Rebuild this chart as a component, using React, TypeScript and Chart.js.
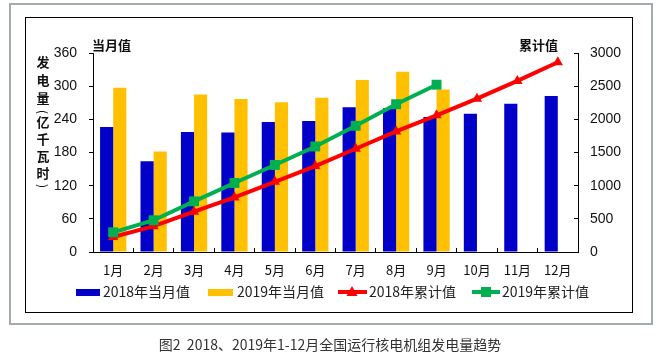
import React, { useEffect, useRef } from "react";
import { Chart, registerables } from "chart.js";

Chart.register(...registerables);

const months = ["1月", "2月", "3月", "4月", "5月", "6月", "7月", "8月", "9月", "10月", "11月", "12月"];
const monthly2018 = [226, 164, 217, 216, 235, 237, 262, 260, 244, 250, 268, 282];
const monthly2019 = [297, 182, 285, 277, 271, 279, 311, 326, 294, null, null, null];
const cumulative2018 = [226, 390, 607, 823, 1058, 1295, 1557, 1817, 2061, 2311, 2579, 2861];
const cumulative2019 = [297, 479, 764, 1041, 1312, 1591, 1902, 2228, 2522, null, null, null];
const leftTicks = [0, 60, 120, 180, 240, 300, 360];
const rightTicks = [0, 500, 1000, 1500, 2000, 2500, 3000];
const seriesNames = ["2018年当月值", "2019年当月值", "2018年累计值", "2019年累计值"];
const colors = ["#0000C8", "#FFC000", "#FF0000", "#00B050"];
const leftTitle = "当月值";
const rightTitle = "累计值";
const yTitleChars = ["发", "电", "量", "(", "亿", "千", "瓦", "时", ")"];
const caption = "图2  2018、2019年1-12月全国运行核电机组发电量趋势";

const NUM_FONT = "'Liberation Sans', Arial, sans-serif";
const CJK_FONT = "'Noto Sans CJK SC', sans-serif";

const decor = {
  id: "decor",
  beforeDraw(chart: any) {
    const ctx = chart.ctx;
    ctx.save();
    ctx.fillStyle = "#fff";
    ctx.fillRect(0, 0, chart.width, chart.height);
    ctx.strokeStyle = "#A3ABAF";
    ctx.lineWidth = 2;
    ctx.strokeRect(10, 4, 642, 320);
    ctx.strokeStyle = "#000";
    ctx.lineWidth = 1;
    ctx.strokeRect(25.5, 17.5, 607, 295);
    ctx.restore();
  },
  afterDraw(chart: any) {
    const ctx = chart.ctx;
    ctx.save();
    ctx.fillStyle = "#111";
    ctx.textBaseline = "middle";
    ctx.font = "bold 13px " + CJK_FONT;
    ctx.textAlign = "left";
    ctx.fillText(leftTitle, 92, 45);
    ctx.fillText(rightTitle, 519, 45);
    ctx.textAlign = "center";
    ctx.font = "bold 13px " + CJK_FONT;
    const ys = [62, 80, 98, 112, 122, 139, 156, 173, 186];
    yTitleChars.forEach((c, i) => {
      if (c === "(" || c === ")") {
        ctx.save();
        ctx.translate(43, ys[i]);
        ctx.rotate(Math.PI / 2);
        ctx.font = "12px " + CJK_FONT;
        ctx.fillText(c, 0, 0);
        ctx.restore();
      } else {
        ctx.fillText(c, 43, ys[i]);
      }
    });

    // legend
    const ly = 292;
    ctx.font = "14px " + CJK_FONT;
    ctx.textAlign = "left";
    ctx.fillStyle = colors[0];
    ctx.fillRect(76, ly - 3, 24, 7);
    ctx.fillStyle = "#222";
    ctx.fillText(seriesNames[0], 103, ly);
    ctx.fillStyle = colors[1];
    ctx.fillRect(208, ly - 3, 25, 7);
    ctx.fillStyle = "#222";
    ctx.fillText(seriesNames[1], 237, ly);
    // red line
    ctx.strokeStyle = colors[2];
    ctx.lineWidth = 4;
    ctx.beginPath();
    ctx.moveTo(338, ly);
    ctx.lineTo(367, ly);
    ctx.stroke();
    ctx.fillStyle = colors[2];
    ctx.beginPath();
    ctx.moveTo(352, ly - 6);
    ctx.lineTo(357.5, ly + 4);
    ctx.lineTo(346.5, ly + 4);
    ctx.closePath();
    ctx.fill();
    ctx.fillStyle = "#222";
    ctx.fillText(seriesNames[2], 369, ly);
    // green line
    ctx.strokeStyle = colors[3];
    ctx.beginPath();
    ctx.moveTo(472, ly);
    ctx.lineTo(500, ly);
    ctx.stroke();
    ctx.fillStyle = colors[3];
    ctx.fillRect(481, ly - 5, 10, 10);
    ctx.fillStyle = "#222";
    ctx.fillText(seriesNames[3], 502, ly);

    // caption
    ctx.font = "14px " + CJK_FONT;
    ctx.fillStyle = "#333";
    ctx.textAlign = "center";
    ctx.fillText(caption, 330, 345);
    ctx.restore();
  },
};

export default function App() {
  const ref = useRef<HTMLCanvasElement>(null);
  useEffect(() => {
    const canvas = ref.current!;
    const chart = new Chart(canvas, {
      type: "bar",
      data: {
        labels: months,
        datasets: [
          {
            type: "line",
            label: seriesNames[3],
            data: cumulative2019,
            yAxisID: "y1",
            borderColor: colors[3],
            backgroundColor: colors[3],
            borderWidth: 4,
            pointStyle: "rect",
            pointRadius: 7,
            pointBorderWidth: 0,
            order: 0,
          } as any,
          {
            type: "line",
            label: seriesNames[2],
            data: cumulative2018,
            yAxisID: "y1",
            borderColor: colors[2],
            backgroundColor: colors[2],
            borderWidth: 4,
            pointStyle: "triangle",
            pointRadius: 6,
            pointBorderWidth: 0,
            order: 1,
          } as any,
          {
            type: "bar",
            label: seriesNames[0],
            data: monthly2018,
            yAxisID: "y",
            backgroundColor: colors[0],
            categoryPercentage: 0.65,
            barPercentage: 1,
            order: 2,
          },
          {
            type: "bar",
            label: seriesNames[1],
            data: monthly2019,
            yAxisID: "y",
            backgroundColor: colors[1],
            categoryPercentage: 0.65,
            barPercentage: 1,
            order: 2,
          },
        ],
      },
      options: {
        responsive: false,
        animation: false,
        devicePixelRatio: 1,
        layout: { padding: { top: 53, left: 0, right: 0, bottom: 0 } },
        plugins: { legend: { display: false }, tooltip: { enabled: false } },
        scales: {
          x: {
            offset: true,
            grid: { offset: true, drawOnChartArea: false, drawTicks: true, tickLength: -4, tickColor: "#000" },
            border: { display: true, color: "#000", width: 1 },
            ticks: { font: { family: CJK_FONT, size: 13 }, color: "#111", padding: 14, maxRotation: 0 },
            afterFit: (s: any) => { s.height = 112; },
          },
          y: {
            position: "left",
            min: 0,
            max: 360,
            afterBuildTicks: (s: any) => { s.ticks = leftTicks.map((v) => ({ value: v })); },
            grid: { drawOnChartArea: false, drawTicks: true, tickLength: 4, tickColor: "#000" },
            border: { display: true, color: "#000", width: 1 },
            ticks: { font: { family: NUM_FONT, size: 14 }, color: "#111", padding: 12, callback: (v: any) => String(v) },
            afterFit: (s: any) => { s.width = 93; },
          },
          y1: {
            position: "right",
            min: 0,
            max: 3000,
            afterBuildTicks: (s: any) => { s.ticks = rightTicks.map((v) => ({ value: v })); },
            grid: { drawOnChartArea: false, drawTicks: true, tickLength: -4, tickColor: "#000" },
            border: { display: true, color: "#000", width: 1 },
            ticks: { font: { family: NUM_FONT, size: 14 }, color: "#111", padding: 16, callback: (v: any) => String(v) },
            afterFit: (s: any) => { s.width = 87; },
          },
        },
      },
      plugins: [decor],
    } as any);
    return () => chart.destroy();
  }, []);
  return (
    <div style={{ position: "fixed", left: 0, top: 0, width: 665, height: 364, background: "#fff" }}>
      <canvas ref={ref} width={665} height={364} style={{ display: "block" }} />
    </div>
  );
}
